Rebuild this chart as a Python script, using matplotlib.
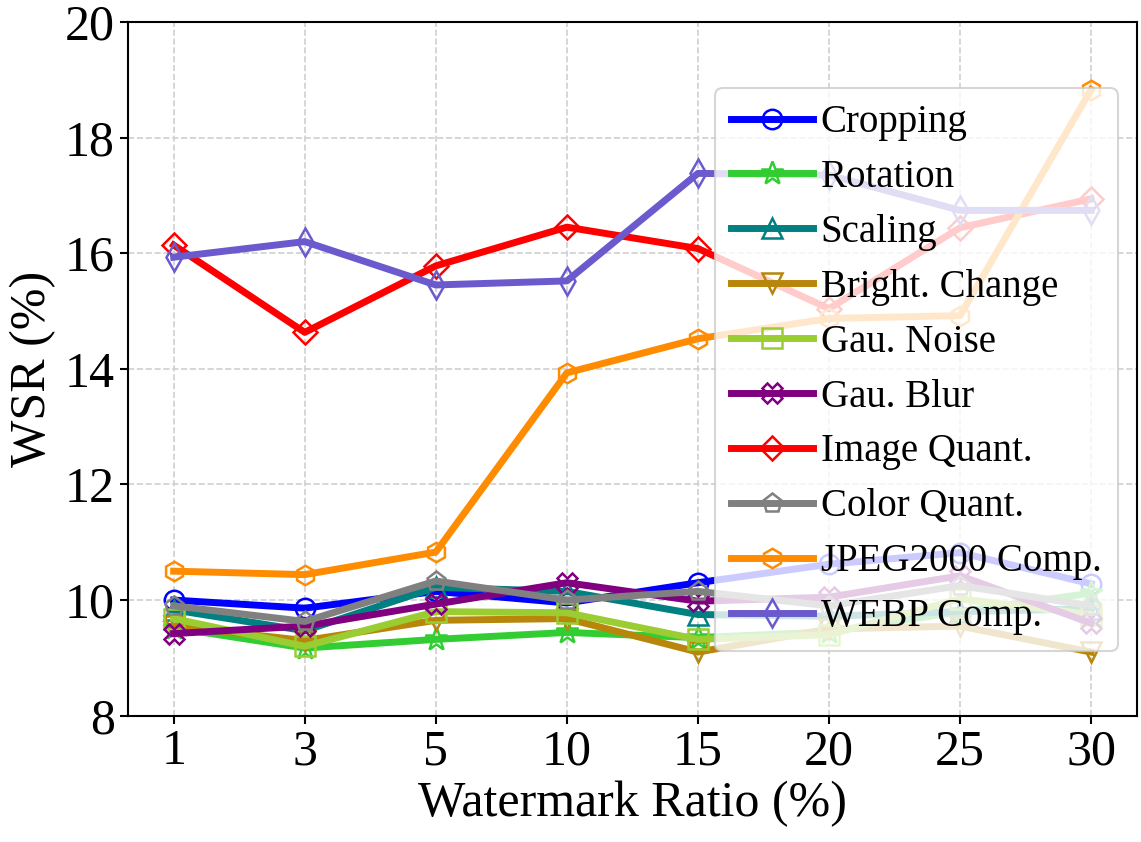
import matplotlib
matplotlib.use("Agg")
import matplotlib.pyplot as plt
import numpy as np

x_labels = ["1", "3", "5", "10", "15", "20", "25", "30"]

cropping = [10.0, 9.86, 10.15, 9.95, 10.3, 10.62, 10.82, 10.28]
rotation = [9.52, 9.17, 9.32, 9.44, 9.35, 9.45, 9.8, 10.12]
scaling = [9.83, 9.47, 10.22, 10.15, 9.75, 9.72, 9.8, 9.85]
bright = [9.55, 9.3, 9.65, 9.68, 9.1, 9.5, 9.55, 9.1]
gau_noise = [9.68, 9.2, 9.8, 9.78, 9.32, 9.4, 10.02, 9.75]
gau_blur = [9.42, 9.55, 9.93, 10.3, 9.98, 10.05, 10.42, 9.6]
image_quant = [16.14, 14.63, 15.78, 16.45, 16.08, 15.04, 16.44, 16.94]
color_quant = [9.9, 9.63, 10.33, 10.0, 10.15, 9.9, 10.25, 9.9]
jpeg2000 = [10.5, 10.44, 10.83, 13.93, 14.52, 14.87, 14.92, 18.83]
webp = [15.93, 16.2, 15.45, 15.52, 17.38, 17.35, 16.74, 16.74]

series = [
    ("Cropping", cropping, "#0000FF", "o"),
    ("Rotation", rotation, "#32CD32", "*"),
    ("Scaling", scaling, "#008080", "^"),
    ("Bright. Change", bright, "#B8860B", "v"),
    ("Gau. Noise", gau_noise, "#9ACD32", "s"),
    ("Gau. Blur", gau_blur, "#800080", "X"),
    ("Image Quant.", image_quant, "#FF0000", "D"),
    ("Color Quant.", color_quant, "#808080", "p"),
    ("JPEG2000 Comp.", jpeg2000, "#FF8C00", "h"),
    ("WEBP Comp.", webp, "#6A5ACD", "d"),
]

plt.rcParams['font.family'] = ['Liberation Serif', 'DejaVu Serif']
plt.rcParams['mathtext.fontset'] = 'stix'

fig = plt.figure(figsize=(11.41, 8.42), dpi=100)
ax = fig.add_axes([0.112, 0.150, 0.8845, 0.824])

xpos = np.arange(len(x_labels))
for name, vals, col, mk in series:
    ms = 17 if mk == "*" else 14
    if mk == "D":
        ms = 12
    ax.plot(xpos, vals, color=col, marker=mk, markersize=ms, linewidth=5,
            markerfacecolor='none', markeredgecolor=col, markeredgewidth=1.8,
            label=name)

ax.set_xticks(xpos)
ax.set_xticklabels(x_labels)
ax.set_xlim(-0.35, len(x_labels) - 1 + 0.35)
ax.set_ylim(8, 20)
ax.set_yticks([8, 10, 12, 14, 16, 18, 20])
ax.tick_params(axis='both', labelsize=36, width=1.5, length=6)
ax.set_xlabel("Watermark Ratio (%)", fontsize=36, labelpad=4)
ax.set_ylabel("WSR (%)", fontsize=36, labelpad=6)
ax.grid(True, linestyle='--', color='#d0d0d0', linewidth=1.2)
for sp in ax.spines.values():
    sp.set_linewidth(1.5)

leg = ax.legend(loc='upper right', bbox_to_anchor=(0.981, 0.905), fontsize=28,
                framealpha=0.8, handlelength=2.1, labelspacing=0.46,
                borderpad=0.42, handletextpad=0.2, borderaxespad=0.0)
leg.get_frame().set_linewidth(1.5)

fig.savefig("out.png", dpi=100)
